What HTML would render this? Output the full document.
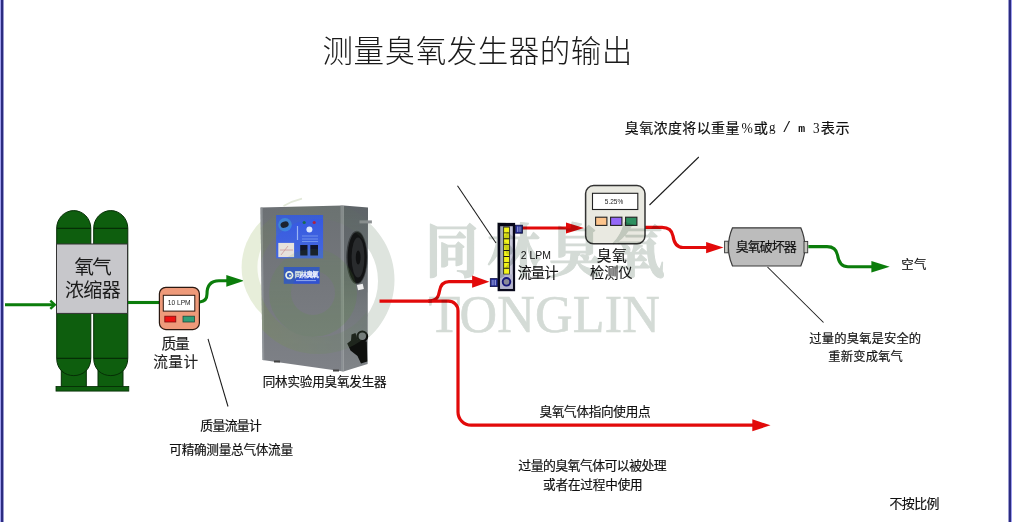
<!DOCTYPE html>
<html lang="zh"><head><meta charset="utf-8"><title>测量臭氧发生器的输出</title>
<style>
html,body{margin:0;padding:0;background:#fff;}
body{width:1012px;height:522px;overflow:hidden;font-family:"Liberation Sans",sans-serif;}
svg{display:block;will-change:transform;}
.cj{font-family:"Liberation Sans","Noto Sans CJK SC",sans-serif;}
.cs{font-family:"Liberation Serif","Noto Serif CJK SC",serif;}
</style></head><body>
<svg width="1012" height="522" viewBox="0 0 1012 522">
<defs>
<linearGradient id="gf" x1="0" y1="0" x2="0" y2="1"><stop offset="0" stop-color="#6c7074"/><stop offset="0.5" stop-color="#75787d"/><stop offset="1" stop-color="#7e8187"/></linearGradient>
<linearGradient id="gs" x1="0" y1="0" x2="0" y2="1"><stop offset="0" stop-color="#5e6468"/><stop offset="0.45" stop-color="#686d71"/><stop offset="0.6" stop-color="#72777b"/><stop offset="1" stop-color="#808488"/></linearGradient>
<linearGradient id="gb" x1="0" y1="0" x2="0" y2="1"><stop offset="0" stop-color="#3558e2"/><stop offset="1" stop-color="#4568de"/></linearGradient>
<linearGradient id="gm" x1="0" y1="205" x2="0" y2="372" gradientUnits="userSpaceOnUse"><stop offset="0" stop-color="#666"/><stop offset="0.3" stop-color="#999"/><stop offset="0.6" stop-color="#ddd"/><stop offset="1" stop-color="#fff"/></linearGradient>
<mask id="mk" maskUnits="userSpaceOnUse" x="0" y="0" width="1012" height="522"><polygon points="260.5,207.5 343.5,205.5 367.5,207.5 367,364 343.5,371.5 262.5,360" fill="url(#gm)"/></mask>
<clipPath id="cl"><rect x="230" y="195" width="32" height="160"/></clipPath>
<clipPath id="cr"><rect x="345" y="195" width="60" height="170"/></clipPath>
<linearGradient id="gr" x1="0" y1="0" x2="1" y2="0"><stop offset="0" stop-color="#7aa02a"/><stop offset="0.5" stop-color="#6a9050"/><stop offset="1" stop-color="#607868"/></linearGradient>
</defs>
<rect width="1012" height="522" fill="#fff"/>
<rect x="0" y="0" width="1" height="522" fill="#a0a0f0"/>
<rect x="1" y="0" width="2" height="522" fill="#2c2c80"/>
<rect x="3" y="0" width="1" height="522" fill="#9a9ad0"/>
<rect x="1008" y="0" width="1" height="522" fill="#9a9ad0"/>
<rect x="1009" y="0" width="2" height="522" fill="#2c2c80"/>
<rect x="1011" y="0" width="1" height="522" fill="#a0a0f0"/>
<g fill="#0e5e0e" stroke="#062e06" stroke-width="1"><rect x="61.30" y="370" width="25.00" height="16.5"/><path d="M56.70 228.3 A17.05 17.7 0 0 1 90.80 228.3 V358.3 C90.80 369.5 82.75 375.6 73.75 375.6 C64.75 375.6 56.70 369.5 56.70 358.3 Z"/><path d="M56.70 228.3H90.80 M56.70 358.3H90.80" fill="none" stroke-width="1.2"/></g>
<g fill="#0e5e0e" stroke="#062e06" stroke-width="1"><rect x="98.00" y="370" width="25.00" height="16.5"/><path d="M93.70 228.3 A17.05 17.7 0 0 1 127.80 228.3 V358.3 C127.80 369.5 119.75 375.6 110.75 375.6 C101.75 375.6 93.70 369.5 93.70 358.3 Z"/><path d="M93.70 228.3H127.80 M93.70 358.3H127.80" fill="none" stroke-width="1.2"/></g>
<rect x="56" y="386.4" width="72.8" height="4.7" fill="#0e5e0e" stroke="#062e06" stroke-width="0.8"/>
<rect x="56.5" y="244" width="71" height="69.4" fill="#c7c7cb" stroke="#333" stroke-width="1"/>
<text class="cj" x="74.45" y="274.24" font-size="19.52" fill="#1c1c1c" textLength="37.3" lengthAdjust="spacing">氧气</text>
<text class="cj" x="65.11" y="297.47" font-size="19.07" fill="#1c1c1c" textLength="55.6" lengthAdjust="spacing">浓缩器</text>
<path d="M5 304.75H53.5" stroke="#0b7d0b" stroke-width="3.2" fill="none"/>
<path d="M50.3 300.6L54.8 304.75L50.3 308.9" stroke="#0b7d0b" stroke-width="2.4" fill="none" stroke-linejoin="miter"/>
<path d="M128 302.5H160" stroke="#0b7d0b" stroke-width="3.1" fill="none"/>
<rect x="159.4" y="287.3" width="40" height="42.3" rx="6.5" fill="#ee9a7a" stroke="#2a1810" stroke-width="1.2"/>
<rect x="163.3" y="295.3" width="31.5" height="15.8" fill="#fff" stroke="#2a1810" stroke-width="1"/>
<text x="167.7" y="305.3" font-family="Liberation Sans, sans-serif" font-size="7.1" fill="#222" textLength="23" lengthAdjust="spacingAndGlyphs">10 LPM</text>
<rect x="164.8" y="316.2" width="11" height="5.8" fill="#ee1111" stroke="#7a1010" stroke-width="0.8"/>
<rect x="183" y="316.2" width="11.4" height="5.8" fill="#2e9e78" stroke="#1a4a3a" stroke-width="0.8"/>
<text class="cj" x="161.47" y="348.83" font-size="14.77" fill="#222" stroke="#1a1a1a" stroke-width="0.12" textLength="28.2" lengthAdjust="spacing">质量</text>
<text class="cj" x="153.21" y="366.83" font-size="14.67" fill="#222" stroke="#1a1a1a" stroke-width="0.12" textLength="44.9" lengthAdjust="spacing">流量计</text>
<path d="M199.8 302 C 204.5 301.5 207 298.5 207 294 C 207 286 210 280.8 219 280.8 H 227.5" stroke="#0b7d0b" stroke-width="3.1" fill="none"/>
<path d="M226.3 274.9L244.1 280.8L226.3 286.7Z" fill="#0b7d0b"/>
<g clip-path="url(#cl)"><circle cx="305.6" cy="267.3" r="64" fill="#e7eeda"/><circle cx="305.6" cy="267.3" r="48.2" fill="#fbfcf8"/></g>
<path d="M317.5 203 a77 77 0 1 1 -0.01 0Z M319.5 222.5 a58.5 58.5 0 1 0 0.01 0Z" fill="#dee4de" fill-rule="evenodd" clip-path="url(#cr)"/>
<path d="M283.5 206 Q292 201 302 198.6" stroke="#e3e9d9" stroke-width="1.6" fill="none"/>
<g>
<polygon points="260.5,207.5 343.5,205.5 343.5,371.5 262.5,360" fill="url(#gf)"/>
<polygon points="343.5,205.5 368,207.5 367.6,364 343.5,371.5" fill="url(#gs)"/>
<polygon points="340.5,205.6 343.5,205.5 343.5,371.5 341,371" fill="#8e9397" opacity="0.8"/><polygon points="260.5,207.5 262.6,207.45 264.3,360.3 262.5,360" fill="#94999c" opacity="0.8"/>
<rect x="276.1" y="215" width="47" height="43.4" fill="url(#gb)"/>
<circle cx="285" cy="224.8" r="6.8" fill="#3c84e2"/>
<ellipse cx="284.6" cy="224.6" rx="4.2" ry="3" fill="#121830" transform="rotate(-20 284.6 224.6)"/>
<rect x="278.3" y="242.9" width="15.8" height="14.2" fill="#e6e2dc"/>
<path d="M281 255L288 246M280 250H293" stroke="#c99" stroke-width="0.8" fill="none"/>
<rect x="300.2" y="245" width="7.3" height="10.5" fill="#10142a"/>
<rect x="310.3" y="245" width="7.7" height="10.5" fill="#10142a"/>
<circle cx="304.2" cy="222.5" r="1.6" fill="#1a6a50"/>
<circle cx="314.2" cy="222.5" r="1.6" fill="#b02040"/>
<circle cx="309.4" cy="229.6" r="3" fill="#d8e4ff"/>
<path d="M302 236H318M302 239H318M302 241.5H318" stroke="#7fa0f0" stroke-width="0.8"/>
<path d="M297.5 226V240" stroke="#9ab4f4" stroke-width="1.2"/>
<rect x="283.8" y="267" width="35.8" height="16.8" fill="#3152d0"/>
<circle cx="289.3" cy="275.2" r="3.3" fill="none" stroke="#fff" stroke-width="1.7"/><circle cx="290" cy="275.6" r="1" fill="#fff"/>

<path d="M296 280.6H316" stroke="#9fb4f0" stroke-width="0.9"/>
<ellipse cx="356.9" cy="257.5" rx="10.6" ry="26.8" fill="#3a3e40"/>
<ellipse cx="357.2" cy="257.5" rx="9.6" ry="25.6" fill="#121314"/><ellipse cx="358" cy="257.5" rx="6.4" ry="20" fill="#292b2d"/><ellipse cx="358.2" cy="257.5" rx="2.4" ry="7" fill="#101112"/>
<rect x="359.5" y="220.4" width="12.4" height="3" fill="#8c9092"/>
<rect x="357.4" y="284.2" width="6" height="5.6" fill="#eee" transform="rotate(-12 360.4 287)"/>
<circle cx="362.3" cy="336.3" r="4.8" fill="none" stroke="#0c0e0c" stroke-width="2.2"/><path d="M351.5 334.5 L355.5 333 L357.5 339.5 L366.8 341.5 L367.3 361.5 L361 363.5 L357.5 356 L350.5 350.5 L347.2 343.5 L351 340.5 Z" fill="#0e100e"/>
<rect x="274" y="360.5" width="6" height="2" fill="#444"/>
<rect x="333" y="369.5" width="6" height="2" fill="#444"/>
</g>
<text class="cj" x="294.40" y="277.43" font-size="6.81" fill="#f4f6ff" stroke="#f4f6ff" stroke-width="0.27" textLength="24.4" lengthAdjust="spacing">同林臭氧</text>
<text class="cj" x="262.70" y="386.43" font-size="12.55" fill="#111" stroke="#111" stroke-width="0.18" textLength="123.9" lengthAdjust="spacing">同林实验用臭氧发生器</text>
<g mask="url(#mk)" opacity="0.2"><circle cx="318" cy="278" r="67.5" fill="none" stroke="url(#gr)" stroke-width="17"/><circle cx="313" cy="293" r="33" fill="none" stroke="#5a9436" stroke-width="22"/></g>
<g stroke="#e20a0a" stroke-width="3.2" fill="none">
<path d="M379.5 301.2 H448.5 A9.5 9.5 0 0 1 458 310.7 V412 A13.2 13.2 0 0 0 471.2 425.2 H754"/>
<path d="M428 301.2 C 437 300.6 438.5 297 439.5 291 C 440.5 285 443 281.6 449 281.6 H473.5"/>
<path d="M522.5 228 H568"/>
<path d="M644.5 227.3 H662 C 668 227.3 672 230 673 236 C 674 243 677 247.5 683 247.5 H707.5"/>
</g>
<g fill="#e20a0a">
<path d="M472.1 275.6L489.4 281.7L472.1 287.8Z"/>
<path d="M566 222.5L584 228L566 233.5Z"/>
<path d="M706.1 241.9L723.5 247.6L706.1 253.3Z"/>
<path d="M752.3 419.3L770.5 425.3L752.3 431.3Z"/>
</g>
<g>
<rect x="497.6" y="222.9" width="17.5" height="68.3" fill="#08081a"/>
<rect x="500.2" y="226.2" width="12.6" height="62.6" fill="#c6c6d8"/>
<rect x="500.2" y="274.4" width="12.6" height="14.4" fill="#b4b4cc"/>
<rect x="503.2" y="226.4" width="6.6" height="48" fill="#1a1a10"/>
<path d="M506.5 227.4V274" stroke="#f4f41a" stroke-width="5.2" stroke-dasharray="5 0.9" fill="none"/>
<circle cx="506.5" cy="281.8" r="3.8" fill="#8a8a98" stroke="#16167a" stroke-width="1.9"/>
<rect x="515.5" y="225.2" width="7" height="8" fill="#1e2690" stroke="#101046" stroke-width="0.8"/>
<rect x="490.3" y="278.6" width="7.2" height="8" fill="#1e2690" stroke="#101046" stroke-width="0.8"/>
<path d="M517.4 226.5v5.4M519.1 226.5v5.4M520.8 226.5v5.4M492.2 279.9v5.4M493.9 279.9v5.4M495.6 279.9v5.4" stroke="#b8c0f4" stroke-width="0.75"/>
</g>
<text x="520.8" y="258.6" font-family="Liberation Sans, sans-serif" font-size="10.6" fill="#111" textLength="30.2" lengthAdjust="spacingAndGlyphs">2 LPM</text>
<text class="cj" x="517.43" y="278.35" font-size="14.35" fill="#111" stroke="#1a1a1a" stroke-width="0.11" textLength="41.2" lengthAdjust="spacing">流量计</text>
<rect x="585.6" y="185.6" width="59.4" height="58.2" rx="8" fill="#e9e9e1" stroke="#333" stroke-width="1.5"/>
<rect x="592.5" y="193.3" width="45.3" height="16.2" fill="#fff" stroke="#222" stroke-width="1.1"/>
<text x="604.8" y="203.6" font-family="Liberation Sans, sans-serif" font-size="7.4" fill="#222" textLength="18.4" lengthAdjust="spacingAndGlyphs">5.25%</text>
<rect x="595.6" y="217.2" width="11.3" height="8.2" fill="#fcc48c" stroke="#222" stroke-width="1.1"/>
<rect x="610.6" y="217.2" width="11.3" height="8.2" fill="#9468f8" stroke="#222" stroke-width="1.1"/>
<rect x="625.6" y="217.2" width="11.3" height="8.2" fill="#2e9060" stroke="#222" stroke-width="1.1"/>
<text class="cj" x="596.80" y="261.27" font-size="14.81" fill="#111" stroke="#1a1a1a" stroke-width="0.12" textLength="30" lengthAdjust="spacing">臭氧</text>
<text class="cj" x="590.03" y="278.33" font-size="14.21" fill="#111" stroke="#1a1a1a" stroke-width="0.11" textLength="42.5" lengthAdjust="spacing">检测仪</text>
<path d="M732.5 227.8 H800.8 Q 809 247 800.8 266 H732.5 Q 724.3 247 732.5 227.8 Z" fill="#bcbcbc" stroke="#3a3a3a" stroke-width="1.2"/>
<rect x="724.6" y="241.2" width="3.6" height="11.6" fill="#c8c8c2" stroke="#333" stroke-width="0.9"/>
<rect x="804" y="241.4" width="3.7" height="11.4" fill="#c8c8c2" stroke="#333" stroke-width="0.9"/>
<text class="cj" x="735.69" y="250.92" font-size="12.97" fill="#111" stroke="#111" stroke-width="0.18" textLength="61" lengthAdjust="spacing">臭氧破坏器</text>
<path d="M808.3 246.6 H827 C 833 246.6 836.5 249.5 837.5 255 C 838.5 262 841.5 266.7 848 266.7 H 872.5" stroke="#0b7d0b" stroke-width="3.1" fill="none"/>
<path d="M871.4 261.1L889.7 266.8L871.4 272.5Z" fill="#0b7d0b"/>
<text class="cj" x="901.36" y="268.52" font-size="12.43" fill="#111" stroke="#111" stroke-width="0.17" textLength="25.1" lengthAdjust="spacing">空气</text>
<g stroke="#1a1a1a" stroke-width="1.05" fill="none">
<path d="M208 338.8L228 406.5"/>
<path d="M457.5 185.8L496 243"/>
<path d="M649.5 205L698.8 157"/>
<path d="M767.5 267L823.5 322.5"/>
</g>
<text class="cj" x="322.58" y="62.32" font-size="30.5" font-weight="300" fill="#1a1a1a" textLength="309.7" lengthAdjust="spacing">测量臭氧发生器的输出</text>
<text class="cj" x="200.34" y="430.27" font-size="12.83" fill="#111" stroke="#111" stroke-width="0.18" textLength="61.5" lengthAdjust="spacing">质量流量计</text>
<text class="cj" x="169.29" y="453.97" font-size="12.66" fill="#111" stroke="#111" stroke-width="0.18" textLength="123.8" lengthAdjust="spacing">可精确测量总气体流量</text>
<text class="cj" x="624.84" y="133.10" font-size="13.96" fill="#111" stroke="#111" stroke-width="0.2" textLength="114.6" lengthAdjust="spacing">臭氧浓度将以重量</text>
<text class="cj" x="753.76" y="133.15" font-size="14.15" fill="#111" stroke="#111" stroke-width="0.2">或</text>
<text class="cj" x="820.79" y="133.18" font-size="14.15" fill="#111" stroke="#111" stroke-width="0.2" textLength="28.9" lengthAdjust="spacing">表示</text>
<text x="741.6" y="133" font-family="Liberation Serif, serif" font-size="13.6" fill="#111">%</text>
<text x="769" y="131" font-family="Liberation Serif, serif" font-size="13" fill="#111">g</text>
<text x="782.6" y="131.6" font-family="Liberation Mono, monospace" font-size="14" fill="#111">/</text>
<text x="798.3" y="131.9" font-family="Liberation Mono, monospace" font-weight="bold" font-size="11.5" fill="#111">m</text>
<text x="813" y="132.6" font-family="Liberation Serif, serif" font-size="15.4" fill="#111" textLength="6.6" lengthAdjust="spacingAndGlyphs">3</text>
<text class="cj" x="809.34" y="343.48" font-size="12.31" fill="#111" stroke="#111" stroke-width="0.17" textLength="111.8" lengthAdjust="spacing">过量的臭氧是安全的</text>
<text class="cj" x="828.36" y="360.93" font-size="12.29" fill="#111" stroke="#111" stroke-width="0.17" textLength="74.4" lengthAdjust="spacing">重新变成氧气</text>
<text class="cj" x="539.41" y="416.43" font-size="12.62" fill="#111" stroke="#111" stroke-width="0.18" textLength="111.2" lengthAdjust="spacing">臭氧气体指向使用点</text>
<text class="cj" x="518.32" y="470.39" font-size="12.9" fill="#111" stroke="#111" stroke-width="0.18" textLength="148.4" lengthAdjust="spacing">过量的臭氧气体可以被处理</text>
<text class="cj" x="543.02" y="488.93" font-size="12.62" fill="#111" stroke="#111" stroke-width="0.18" textLength="99.7" lengthAdjust="spacing">或者在过程中使用</text>
<text class="cj" x="889.43" y="508.44" font-size="12.94" fill="#111" stroke="#111" stroke-width="0.18" textLength="50" lengthAdjust="spacing">不按比例</text>
<g style="mix-blend-mode:multiply">
<text class="cs" transform="translate(425.16 272.30) scale(1 1.0752)" x="0" y="0" font-size="53.57" font-weight="bold" fill="#d4dbd6" stroke="#d4dbd6" stroke-width="1.07" stroke-linejoin="round" textLength="239.4" lengthAdjust="spacing">同林臭氧</text>
<text x="428.4" y="332.4" font-family="Liberation Serif, serif" font-size="52" letter-spacing="0.2" fill="#d4dbd6" stroke="#d4dbd6" stroke-width="0.6">TONGLIN</text>
</g>
</svg>
</body></html>
